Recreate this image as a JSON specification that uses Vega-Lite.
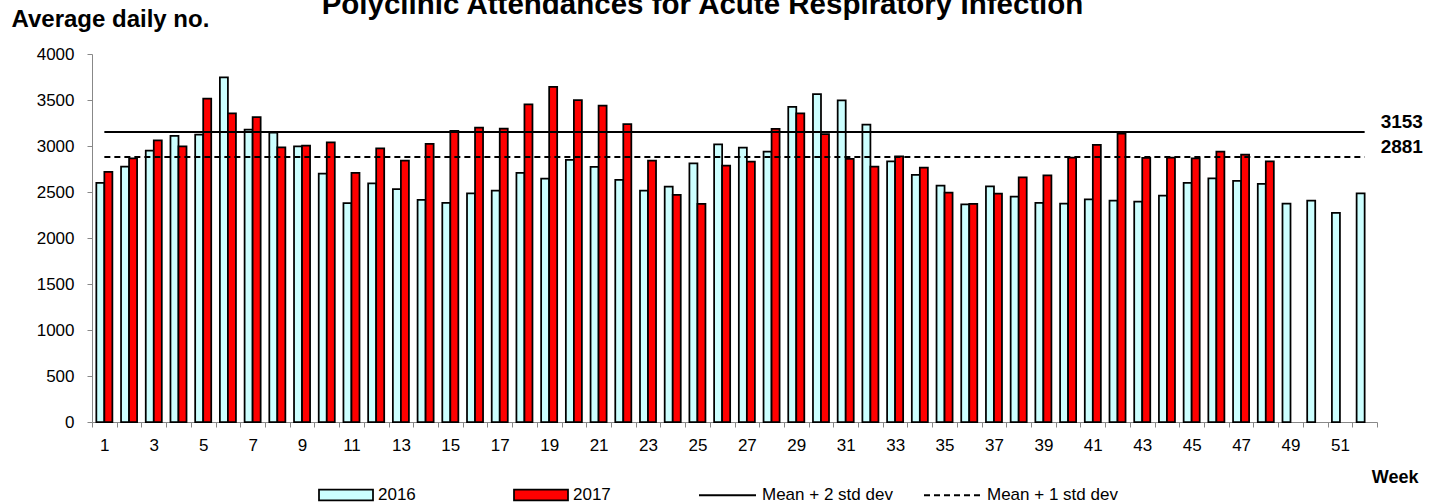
{
  "$schema": "https://vega.github.io/schema/vega-lite/v6.json",
  "width": 1285,
  "height": 368,
  "autosize": "none",
  "padding": {"left": 92, "top": 54, "right": 52, "bottom": 82},
  "background": "white",
  "config": {
    "view": {"stroke": null},
    "font": "Liberation Sans",
    "axis": {"labelFont": "Liberation Sans", "titleFont": "Liberation Sans", "labelColor": "black", "titleColor": "black"},
    "legend": {"labelFont": "Liberation Sans", "labelColor": "black"}
  },
  "title": {
    "text": "Polyclinic Attendances for Acute Respiratory Infection",
    "font": "Liberation Sans",
    "fontWeight": "bold",
    "fontSize": 29.5,
    "color": "black",
    "anchor": "middle",
    "frame": "group",
    "dx": -32,
    "dy": 13,
    "offset": 0
  },
  "datasets": {
    "bars": [
      {"week": 1, "year": "2016", "value": 2600}, {"week": 1, "year": "2017", "value": 2720},
      {"week": 2, "year": "2016", "value": 2775}, {"week": 2, "year": "2017", "value": 2865},
      {"week": 3, "year": "2016", "value": 2950}, {"week": 3, "year": "2017", "value": 3060},
      {"week": 4, "year": "2016", "value": 3110}, {"week": 4, "year": "2017", "value": 2995},
      {"week": 5, "year": "2016", "value": 3125}, {"week": 5, "year": "2017", "value": 3515},
      {"week": 6, "year": "2016", "value": 3745}, {"week": 6, "year": "2017", "value": 3355},
      {"week": 7, "year": "2016", "value": 3178}, {"week": 7, "year": "2017", "value": 3315},
      {"week": 8, "year": "2016", "value": 3145}, {"week": 8, "year": "2017", "value": 2985},
      {"week": 9, "year": "2016", "value": 2996}, {"week": 9, "year": "2017", "value": 3003},
      {"week": 10, "year": "2016", "value": 2700}, {"week": 10, "year": "2017", "value": 3040},
      {"week": 11, "year": "2016", "value": 2378}, {"week": 11, "year": "2017", "value": 2707},
      {"week": 12, "year": "2016", "value": 2595}, {"week": 12, "year": "2017", "value": 2975},
      {"week": 13, "year": "2016", "value": 2530}, {"week": 13, "year": "2017", "value": 2840},
      {"week": 14, "year": "2016", "value": 2415}, {"week": 14, "year": "2017", "value": 3022},
      {"week": 15, "year": "2016", "value": 2382}, {"week": 15, "year": "2017", "value": 3165},
      {"week": 16, "year": "2016", "value": 2486}, {"week": 16, "year": "2017", "value": 3200},
      {"week": 17, "year": "2016", "value": 2515}, {"week": 17, "year": "2017", "value": 3188},
      {"week": 18, "year": "2016", "value": 2707}, {"week": 18, "year": "2017", "value": 3452},
      {"week": 19, "year": "2016", "value": 2645}, {"week": 19, "year": "2017", "value": 3644},
      {"week": 20, "year": "2016", "value": 2848}, {"week": 20, "year": "2017", "value": 3500},
      {"week": 21, "year": "2016", "value": 2772}, {"week": 21, "year": "2017", "value": 3438},
      {"week": 22, "year": "2016", "value": 2631}, {"week": 22, "year": "2017", "value": 3239},
      {"week": 23, "year": "2016", "value": 2515}, {"week": 23, "year": "2017", "value": 2841},
      {"week": 24, "year": "2016", "value": 2558}, {"week": 24, "year": "2017", "value": 2468},
      {"week": 25, "year": "2016", "value": 2811}, {"week": 25, "year": "2017", "value": 2370},
      {"week": 26, "year": "2016", "value": 3018}, {"week": 26, "year": "2017", "value": 2786},
      {"week": 27, "year": "2016", "value": 2982}, {"week": 27, "year": "2017", "value": 2830},
      {"week": 28, "year": "2016", "value": 2938}, {"week": 28, "year": "2017", "value": 3185},
      {"week": 29, "year": "2016", "value": 3424}, {"week": 29, "year": "2017", "value": 3354},
      {"week": 30, "year": "2016", "value": 3565}, {"week": 30, "year": "2017", "value": 3130},
      {"week": 31, "year": "2016", "value": 3496}, {"week": 31, "year": "2017", "value": 2859},
      {"week": 32, "year": "2016", "value": 3232}, {"week": 32, "year": "2017", "value": 2775},
      {"week": 33, "year": "2016", "value": 2833}, {"week": 33, "year": "2017", "value": 2887},
      {"week": 34, "year": "2016", "value": 2685}, {"week": 34, "year": "2017", "value": 2764},
      {"week": 35, "year": "2016", "value": 2569}, {"week": 35, "year": "2017", "value": 2493},
      {"week": 36, "year": "2016", "value": 2366}, {"week": 36, "year": "2017", "value": 2370},
      {"week": 37, "year": "2016", "value": 2561}, {"week": 37, "year": "2017", "value": 2482},
      {"week": 38, "year": "2016", "value": 2450}, {"week": 38, "year": "2017", "value": 2659},
      {"week": 39, "year": "2016", "value": 2381}, {"week": 39, "year": "2017", "value": 2681},
      {"week": 40, "year": "2016", "value": 2374}, {"week": 40, "year": "2017", "value": 2873},
      {"week": 41, "year": "2016", "value": 2420}, {"week": 41, "year": "2017", "value": 3011},
      {"week": 42, "year": "2016", "value": 2406}, {"week": 42, "year": "2017", "value": 3135},
      {"week": 43, "year": "2016", "value": 2395}, {"week": 43, "year": "2017", "value": 2870},
      {"week": 44, "year": "2016", "value": 2460}, {"week": 44, "year": "2017", "value": 2873},
      {"week": 45, "year": "2016", "value": 2598}, {"week": 45, "year": "2017", "value": 2866},
      {"week": 46, "year": "2016", "value": 2648}, {"week": 46, "year": "2017", "value": 2938},
      {"week": 47, "year": "2016", "value": 2620}, {"week": 47, "year": "2017", "value": 2906},
      {"week": 48, "year": "2016", "value": 2588}, {"week": 48, "year": "2017", "value": 2833},
      {"week": 49, "year": "2016", "value": 2374},
      {"week": 50, "year": "2016", "value": 2406},
      {"week": 51, "year": "2016", "value": 2273},
      {"week": 52, "year": "2016", "value": 2486}
    ],
    "lines": [
      {"week": 1, "series": "Mean + 2 std dev", "value": 3153},
      {"week": 52, "series": "Mean + 2 std dev", "value": 3153},
      {"week": 1, "series": "Mean + 1 std dev", "value": 2881},
      {"week": 52, "series": "Mean + 1 std dev", "value": 2881}
    ]
  },
  "layer": [
    {
      "data": {"name": "bars"},
      "mark": {"type": "bar", "stroke": "black", "strokeWidth": 1.75},
      "encoding": {
        "x": {
          "field": "week", "type": "ordinal", "sort": "ascending",
          "scale": {"paddingInner": 0, "paddingOuter": 0},
          "axis": {
            "title": "Week",
            "titleFontWeight": "bold", "titleFontSize": 18,
            "titleAlign": "right", "titleBaseline": "alphabetic",
            "titleX": 1326, "titleY": 60,
            "labelAngle": 0, "labelFontSize": 17, "labelPadding": 10,
            "labelExpr": "datum.value % 2 == 1 ? datum.label : ''",
            "labelOverlap": false, "labelFlush": false,
            "tickBand": "extent", "tickSize": 5, "tickColor": "#888888",
            "domainColor": "#888888", "grid": false
          }
        },
        "xOffset": {"field": "year", "type": "nominal", "scale": {"domain": ["2016", "2017"], "paddingInner": 0, "paddingOuter": 0.54}},
        "y": {
          "field": "value", "type": "quantitative",
          "scale": {"domain": [0, 4000], "nice": false},
          "axis": {
            "title": "Average daily no.",
            "titleFontWeight": "bold", "titleFontSize": 24,
            "titleAngle": 0, "titleAlign": "left", "titleBaseline": "alphabetic",
            "titleX": -81, "titleY": -28,
            "values": [0, 500, 1000, 1500, 2000, 2500, 3000, 3500, 4000],
            "format": "d",
            "labelFontSize": 17, "labelPadding": 13,
            "tickSize": 5, "tickColor": "#888888", "domainColor": "#888888", "grid": false
          }
        },
        "fill": {
          "field": "year", "type": "nominal",
          "scale": {"domain": ["2016", "2017"], "range": ["#ccffff", "#ff0000"]},
          "legend": {
            "orient": "none", "legendX": 226, "legendY": 413, "direction": "horizontal",
            "title": null, "padding": 0,
            "symbolType": "M-1,-0.2H1V0.2H-1Z", "symbolSize": 2916,
            "symbolStrokeColor": "black", "symbolStrokeWidth": 1.75,
            "labelFontSize": 17, "labelOffset": 4, "columnPadding": 94
          }
        }
      }
    },
    {
      "data": {"name": "lines"},
      "mark": {"type": "line", "stroke": "black", "strokeWidth": 2},
      "encoding": {
        "x": {"field": "week", "type": "ordinal", "sort": "ascending"},
        "y": {"field": "value", "type": "quantitative"},
        "strokeDash": {
          "field": "series", "type": "nominal",
          "scale": {"domain": ["Mean + 2 std dev", "Mean + 1 std dev"], "range": [[1, 0], [6, 4]]},
          "legend": {
            "orient": "none", "legendX": 606, "legendY": 411.5, "direction": "horizontal",
            "title": null, "padding": 0,
            "symbolType": "stroke", "symbolSize": 3249,
            "symbolStrokeColor": "black", "symbolStrokeWidth": 2,
            "labelFontSize": 17, "labelOffset": 5, "columnPadding": 27
          }
        }
      }
    },
    {
      "data": {"name": "lines"},
      "transform": [{"filter": "datum.week == 52"}],
      "mark": {"type": "text", "align": "left", "baseline": "alphabetic", "dx": 16, "dy": -3.5, "fontWeight": "bold", "fontSize": 19, "font": "Liberation Sans", "color": "black"},
      "encoding": {
        "x": {"field": "week", "type": "ordinal", "sort": "ascending"},
        "y": {"field": "value", "type": "quantitative"},
        "text": {"field": "value", "type": "quantitative", "format": "d"}
      }
    }
  ]
}
